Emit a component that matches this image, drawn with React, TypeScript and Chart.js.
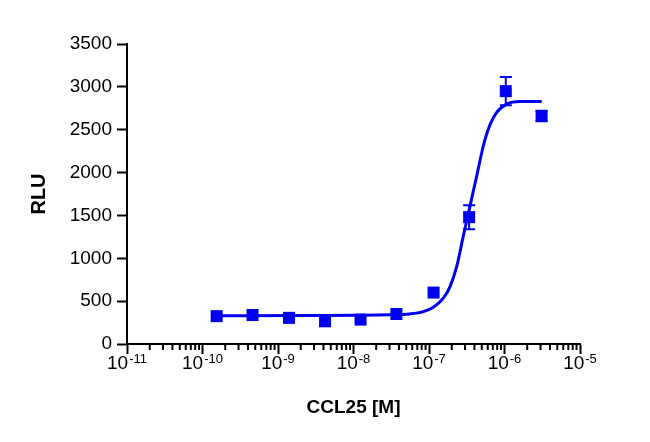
import React, { useEffect, useRef } from 'react';
import { Chart, ChartConfiguration, Plugin, registerables } from 'chart.js';

Chart.register(...registerables);

// measured points (mean +/- error)
const concentrations = [1.54e-10, 4.6e-10, 1.4e-9, 4.2e-9, 1.24e-8, 3.7e-8, 1.15e-7, 3.4e-7, 1.04e-6, 3.1e-6];
const meanRLU = [325, 338, 305, 265, 285, 350, 600, 1480, 2950, 2660];
const errorRLU = [0, 0, 0, 0, 0, 0, 0, 140, 165, 60];

// fitted curve
const fitConcentrations = [
  1.54e-10, 1.95e-9, 3.04e-8, 5.6e-8, 8.4e-8, 1.14e-7, 1.55e-7, 1.9e-7, 2.33e-7,
  2.84e-7, 3.49e-7, 4.28e-7, 5.24e-7, 6.1e-7, 7.88e-7, 1.07e-6, 1.6e-6, 3.11e-6,
];
const fitRLU = [
  330, 332, 340, 351, 378, 430, 535, 670, 905,
  1256, 1608, 1959, 2310, 2506, 2701, 2799, 2829, 2829,
];

const decades = [-11, -10, -9, -8, -7, -6, -5];
const minorSteps = [2, 3, 4, 5, 6, 7, 8, 9];
const yTicks = [0, 500, 1000, 1500, 2000, 2500, 3000, 3500];

const BLUE = '#0000f0';
const FONT = '"Liberation Sans", Arial, sans-serif';

const errorBarPlugin: Plugin = {
  id: 'errorBars',
  afterDatasetsDraw(chart) {
    const { ctx } = chart;
    const x = chart.scales.x;
    const y = chart.scales.y;
    ctx.save();
    ctx.strokeStyle = BLUE;
    ctx.lineWidth = 2;
    concentrations.forEach((c, i) => {
      const err = errorRLU[i];
      if (!err) return;
      const px = x.getPixelForValue(c);
      const top = y.getPixelForValue(meanRLU[i] + err);
      const bottom = y.getPixelForValue(meanRLU[i] - err);
      ctx.beginPath();
      ctx.moveTo(px, top);
      ctx.lineTo(px, bottom);
      ctx.moveTo(px - 6, top);
      ctx.lineTo(px + 6, top);
      ctx.moveTo(px - 6, bottom);
      ctx.lineTo(px + 6, bottom);
      ctx.stroke();
    });
    ctx.restore();
  },
};

// minor ticks and 10^n labels on the log axis
const logAxisPlugin: Plugin = {
  id: 'logAxis',
  afterDraw(chart) {
    const { ctx, chartArea } = chart;
    const x = chart.scales.x;
    ctx.save();
    ctx.strokeStyle = '#000';
    ctx.lineWidth = 2;
    decades.slice(0, -1).forEach((d) => {
      minorSteps.forEach((m) => {
        const px = x.getPixelForValue(m * Math.pow(10, d));
        ctx.beginPath();
        ctx.moveTo(px, chartArea.bottom);
        ctx.lineTo(px, chartArea.bottom + 6);
        ctx.stroke();
      });
    });
    ctx.fillStyle = '#000';
    ctx.textBaseline = 'alphabetic';
    ctx.textAlign = 'left';
    decades.forEach((d) => {
      const px = x.getPixelForValue(Math.pow(10, d));
      ctx.font = `19px ${FONT}`;
      const baseW = ctx.measureText('10').width;
      ctx.font = `13px ${FONT}`;
      const exp = String(d);
      const expW = ctx.measureText(exp).width;
      const start = px - (baseW + expW + 1) / 2;
      ctx.font = `19px ${FONT}`;
      ctx.fillText('10', start, chartArea.bottom + 25);
      ctx.font = `13px ${FONT}`;
      ctx.fillText(exp, start + baseW + 1, chartArea.bottom + 19);
    });
    ctx.restore();
  },
};

const App: React.FC = () => {
  const chartRef = useRef<HTMLCanvasElement | null>(null);
  const chartInstance = useRef<Chart | null>(null);

  useEffect(() => {
    document.body.style.margin = '0';
    if (!chartRef.current) return;
    const ctx = chartRef.current.getContext('2d');
    if (!ctx) return;
    if (chartInstance.current) chartInstance.current.destroy();

    const config: ChartConfiguration = {
      type: 'scatter',
      data: {
        datasets: [
          {
            label: 'fit',
            data: fitConcentrations.map((c, i) => ({ x: c, y: fitRLU[i] })),
            showLine: true,
            borderColor: BLUE,
            borderWidth: 3,
            pointRadius: 0,
            cubicInterpolationMode: 'monotone',
          },
          {
            label: 'CCL25',
            data: concentrations.map((c, i) => ({ x: c, y: meanRLU[i] })),
            pointStyle: 'rect',
            pointRadius: 8.5,
            backgroundColor: BLUE,
            borderWidth: 0,
          },
        ],
      },
      options: {
        animation: false,
        responsive: true,
        maintainAspectRatio: false,
        layout: { padding: { top: 44, right: 70, left: 0, bottom: 0 } },
        plugins: {
          legend: { display: false },
          tooltip: { enabled: false },
        },
        scales: {
          x: {
            type: 'logarithmic',
            min: 1e-11,
            max: 1e-5,
            afterBuildTicks: (scale) => {
              scale.ticks = decades.map((d) => ({ value: Math.pow(10, d), major: true }));
            },
            afterFit: (scale) => {
              scale.height = 98;
            },
            ticks: { callback: () => '' },
            grid: {
              drawOnChartArea: false,
              drawTicks: true,
              tickLength: 10,
              tickWidth: 2,
              color: '#000',
            },
            border: { display: true, color: '#000', width: 2 },
            title: {
              display: true,
              text: 'CCL25 [M]',
              color: '#000',
              font: { family: FONT, size: 19, weight: 'bold' },
              padding: { top: 0, bottom: 23 },
            },
          },
          y: {
            min: 0,
            max: 3500,
            afterBuildTicks: (scale) => {
              scale.ticks = yTicks.map((v) => ({ value: v }));
            },
            afterFit: (scale) => {
              scale.width = 127;
            },
            ticks: {
              color: '#000',
              padding: 5,
              font: { family: FONT, size: 19 },
              callback: (v) => String(v),
            },
            grid: {
              drawOnChartArea: false,
              drawTicks: true,
              tickLength: 10,
              tickWidth: 2,
              color: '#000',
            },
            border: { display: true, color: '#000', width: 2 },
            title: {
              display: true,
              text: 'RLU',
              color: '#000',
              font: { family: FONT, size: 20, weight: 'bold' },
              padding: { top: 27, bottom: 0 },
            },
          },
        },
      },
      plugins: [errorBarPlugin, logAxisPlugin],
    };

    chartInstance.current = new Chart(ctx, config);
    return () => {
      if (chartInstance.current) {
        chartInstance.current.destroy();
        chartInstance.current = null;
      }
    };
  }, []);

  return (
    <div style={{ width: 650, height: 442, position: 'relative', background: '#fff' }}>
      <canvas ref={chartRef} />
    </div>
  );
};

export default App;
